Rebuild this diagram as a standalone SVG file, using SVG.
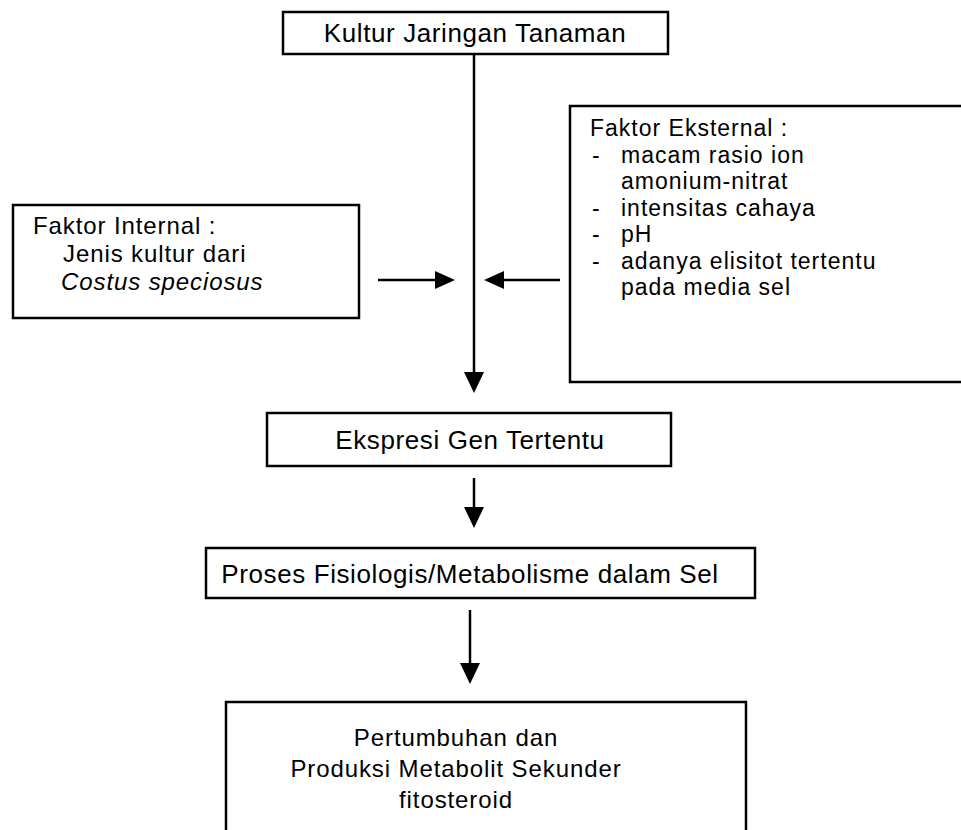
<svg xmlns="http://www.w3.org/2000/svg" width="961" height="830" viewBox="0 0 961 830">
<defs>
<style>
.box{fill:#fff;stroke:#000;stroke-width:2.5}
.t{font-family:"Liberation Sans",Arial,sans-serif;font-size:26px;letter-spacing:0.6px;fill:#000}
.s{font-size:23px;letter-spacing:1px}
.m{font-size:24px;letter-spacing:0.9px}
.c{text-anchor:middle}
.i{font-style:italic}
.ln{stroke:#000;stroke-width:2.5;fill:none}
.ah{fill:#000}
</style>
</defs>
<rect width="961" height="830" fill="#fff"/>
<g id="connectors">
<line class="ln" x1="474" y1="54" x2="474" y2="375"/>
<path class="ah" d="M464,372 L484,372 L474,393 Z"/>
<line class="ln" x1="378" y1="280" x2="438" y2="280"/>
<path class="ah" d="M435,271 L455,280 L435,289 Z"/>
<line class="ln" x1="500" y1="280" x2="560" y2="280"/>
<path class="ah" d="M504,271 L484,280 L504,289 Z"/>
<line class="ln" x1="474" y1="478" x2="474" y2="510"/>
<path class="ah" d="M464,507 L484,507 L474,528 Z"/>
<line class="ln" x1="470" y1="610" x2="470" y2="666"/>
<path class="ah" d="M460,663 L480,663 L470,684 Z"/>
</g>
<g id="kultur">
<rect class="box" x="283" y="12" width="385" height="42"/>
<text class="t c" x="475" y="42">Kultur Jaringan Tanaman</text>
</g>
<g id="internal">
<rect class="box" x="13" y="205" width="346" height="113"/>
<text class="t m" x="33" y="234">Faktor Internal :</text>
<text class="t m" x="63" y="262">Jenis kultur dari</text>
<text class="t m i" x="61" y="290">Costus speciosus</text>
</g>
<g id="eksternal">
<rect class="box" x="570" y="106" width="400" height="276"/>
<text class="t s" x="590" y="136">Faktor Eksternal :</text>
<text class="t s" x="592" y="163">-</text>
<text class="t s" x="621" y="163">macam rasio ion</text>
<text class="t s" x="621" y="189">amonium-nitrat</text>
<text class="t s" x="592" y="216">-</text>
<text class="t s" x="621" y="216">intensitas cahaya</text>
<text class="t s" x="592" y="242">-</text>
<text class="t s" x="621" y="242">pH</text>
<text class="t s" x="592" y="269">-</text>
<text class="t s" x="621" y="269">adanya elisitot tertentu</text>
<text class="t s" x="621" y="295">pada media sel</text>
</g>
<g id="ekspresi">
<rect class="box" x="267" y="413" width="404" height="53"/>
<text class="t c" x="470" y="449">Ekspresi Gen Tertentu</text>
</g>
<g id="proses">
<rect class="box" x="206" y="548" width="549" height="50"/>
<text class="t c" x="470" y="583">Proses Fisiologis/Metabolisme dalam Sel</text>
</g>
<g id="hasil">
<rect class="box" x="226" y="702" width="520" height="140"/>
<text class="t m c" x="456" y="746">Pertumbuhan dan</text>
<text class="t m c" x="456" y="777">Produksi Metabolit Sekunder</text>
<text class="t m c" x="456" y="808">fitosteroid</text>
</g>
</svg>
